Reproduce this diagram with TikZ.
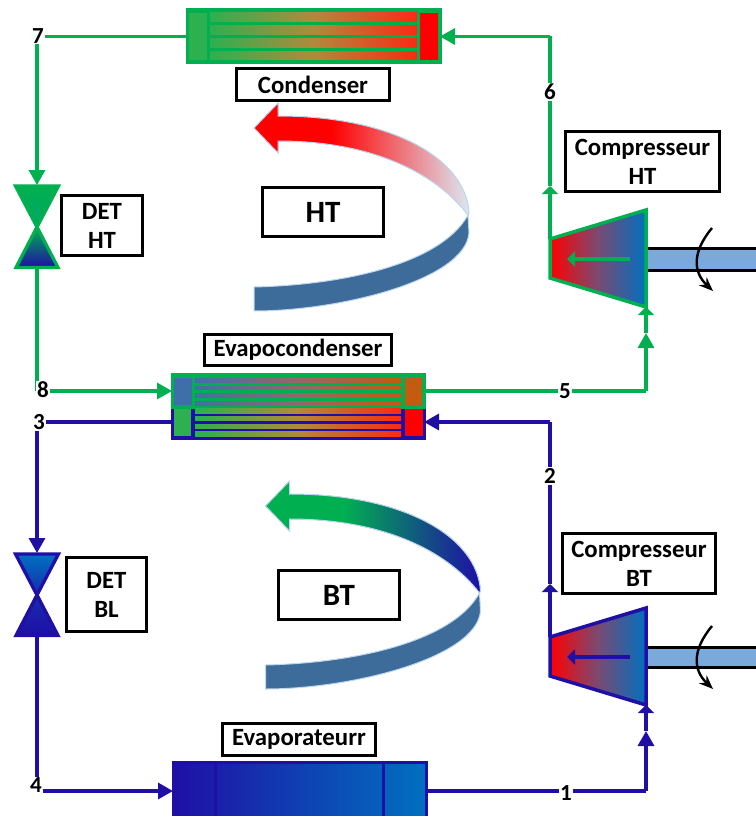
\documentclass[tikz,border=0pt]{standalone}
\usepackage{fontspec}
\setmainfont{Carlito}
\usetikzlibrary{arrows.meta}
\definecolor{gp}{HTML}{00B050}
\definecolor{bp}{HTML}{1F0FA5}
\definecolor{cb}{HTML}{0070C0}
\definecolor{shaftc}{HTML}{7CA9DB}
\definecolor{swirl}{HTML}{3E6C9A}
\definecolor{fadec}{HTML}{DCE6F2}
\definecolor{edgec}{HTML}{BDD7EE}
\definecolor{tubeblue}{HTML}{3F6FA8}
\definecolor{tubeor}{HTML}{C55A11}
\definecolor{chamg}{HTML}{2DB050}
\definecolor{tubemid}{HTML}{B08A3C}
\definecolor{tubemidb}{HTML}{96666A}
\definecolor{tubeend}{HTML}{FA2A14}
\definecolor{compmid}{HTML}{7A4A72}
\pgfdeclarehorizontalshading{htswirl}{100bp}{color(0bp)=(red); color(25bp)=(red); color(43bp)=(red); color(75bp)=(fadec); color(100bp)=(fadec)}
\pgfdeclarehorizontalshading{btswirl}{100bp}{color(0bp)=(gp); color(25bp)=(gp); color(43bp)=(gp); color(75bp)=(bp); color(100bp)=(bp)}
\tikzset{
  x=1pt,y=-1pt,
  lab/.style={draw=black,line width=2.6pt,fill=white,font=\fontsize{24.8}{29}\selectfont\bfseries,align=center,inner sep=0pt,outer sep=0pt},
  big/.style={lab,font=\fontsize{31}{36}\selectfont\bfseries},
  num/.style={fill=white,font=\fontsize{23}{25}\selectfont\bfseries,inner sep=1pt},
  greenpipe/.style={draw=gp,line width=3.3pt},
  bluepipe/.style={draw=bp,line width=3.3pt},
  bigtip/.style={-{Triangle[length=15pt,width=16pt]}},
  smalltip/.style={-{Triangle[length=8pt,width=16pt]}},
  hx/.style={inner sep=0pt,outer sep=0pt,line width=3pt},
  shaftbar/.style={draw=black,line width=3pt,fill=shaftc},
  rot/.style={draw=black,line width=2.4pt,-{Stealth[length=14pt,width=11pt]}},
  gradtube/.style={left color=chamg,right color=tubeend,middle color=tubemid},
  compshade/.style={left color=red,right color=cb,middle color=compmid},
}
\newcommand{\swirlshape}[1]{%
  \fill[shading=#1,draw=edgec,line width=1pt] (278,116) .. controls (395,116) and (466,160) .. (469,213) -- (468,215) .. controls (435,172) and (370,141) .. (278,141) -- (278,153) -- (254,128) -- (278,103) -- cycle;
  \fill[swirl,draw=edgec,line width=1pt] (468,215) .. controls (440,265) and (340,285) .. (254,287) -- (254,311) .. controls (340,311) and (465,280) .. (469,233) -- cycle;
}
\begin{document}
\begin{tikzpicture}
\useasboundingbox (0,0) rectangle (755,816);
% Coordinates of connector ends
\coordinate (cTL) at (37,36.5);
\coordinate (v1t) at (37,185);
\coordinate (v1c) at (37,227);
\coordinate (v1b) at (37,269);
\coordinate (cML) at (37,391);
\coordinate (cBL) at (37,422);
\coordinate (v2t) at (37,553);
\coordinate (v2c) at (37,595);
\coordinate (v2b) at (37,637);
\coordinate (cEL) at (37,791);
\coordinate (k1tl) at (550,239);
\coordinate (k1bl) at (550,278);
\coordinate (k1tr) at (646,210);
\coordinate (k1br) at (646,307);
\coordinate (k2tl) at (550,637);
\coordinate (k2bl) at (550,676);
\coordinate (k2tr) at (646,608);
\coordinate (k2br) at (646,705);
\coordinate (cTR) at (550,36.5);
\coordinate (cMR) at (646,391);
\coordinate (cBR) at (550,422);
\coordinate (cER) at (646,791);
% Swirl arrows
\swirlshape{htswirl}
\begin{scope}[shift={(11.5,378)}]
\swirlshape{btswirl}
\end{scope}
% Shafts
\fill[shaftbar] (646,248) rectangle (760,270);
\fill[shaftbar] (646,647) rectangle (760,667);
\draw[rot] (712,228) .. controls (692,252) and (693,272) .. (713,291);
\draw[rot] (712,626) .. controls (692,650) and (693,670) .. (713,689);
% Heat exchanger bodies
\node[hx,fill=gp,draw=gp,minimum width=253pt,minimum height=53pt] (cond) at (313.5,36.5) {};
\node[hx,fill=bp,draw=bp,minimum width=252pt,minimum height=32pt] (evb) at (298,422) {};
\node[hx,fill=gp,draw=gp,minimum width=252pt,minimum height=33pt] (evt) at (298,391) {};
\node[hx,left color=bp,right color=cb,draw=bp,minimum width=253pt,minimum height=60pt] (evap) at (299.5,792) {};
% Condenser inside
\fill[chamg] (189,13) rectangle (207,60);
\fill[red] (420,13) rectangle (438,60);
\foreach \a/\b in {13/22,26/35,39/48,52/60}
  \fill[gradtube] (210,\a) rectangle (417,\b);
% Evapocondenser inside
\fill[tubeblue] (174,378) rectangle (192,405);
\fill[tubeor] (405,378) rectangle (422,405);
\foreach \a/\b in {378/382,386/389,393/397,401/405}
  \fill[left color=tubeblue,right color=tubeor,middle color=tubemidb] (195,\a) rectangle (401,\b);
\fill[chamg] (174,408.5) rectangle (191,436);
\fill[red] (405,408.5) rectangle (423,436);
\foreach \a/\b in {408.5/413,416/420,424/428,431/436}
  \fill[gradtube] (195,\a) rectangle (401,\b);
% Evaporator dividers
\draw[bp,line width=3pt] (215,764) -- (215,816);
\draw[bp,line width=3pt] (383,764) -- (383,816);
% Valves
\filldraw[greenpipe,line join=miter,top color=gp,bottom color=gp!85!cb] (15.5,186) -- (58.5,186) -- (v1c) -- cycle;
\filldraw[greenpipe,line join=miter,top color=gp,bottom color=bp] (v1c) -- (58,267.5) -- (16,267.5) -- cycle;
\filldraw[bluepipe,line join=miter,top color=cb,bottom color=bp!70!cb] (15.5,554) -- (58.5,554) -- (v2c) -- cycle;
\filldraw[bluepipe,line join=miter,top color=bp!70!cb,bottom color=bp] (v2c) -- (58,635.5) -- (16,635.5) -- cycle;
% Compressors
\filldraw[draw=gp,line width=3.5pt,compshade] (k1tl) -- (k1tr) -- (k1br) -- (k1bl) -- cycle;
\filldraw[draw=bp,line width=3.5pt,compshade] (k2tl) -- (k2tr) -- (k2br) -- (k2bl) -- cycle;
\coordinate (a1s) at (630,259); \coordinate (a1e) at (567,259);
\coordinate (a2s) at (630,657); \coordinate (a2e) at (567,657);
\draw[greenpipe,-{Triangle[length=8pt,width=15pt]}] (a1s) -- (a1e);
\draw[bluepipe,-{Triangle[length=8pt,width=15pt]}] (a2s) -- (a2e);
% Green connectors
\draw[greenpipe] (cond.west) -- (cTL);
\draw[greenpipe,bigtip] (cTL) -- (v1t);
\draw[greenpipe] (v1b) -- (cML);
\draw[greenpipe,bigtip] (cML) -- (evt.west);
\draw[greenpipe] (evt.east) -- (cMR);
\coordinate (g1) at (646,333);
\draw[greenpipe,bigtip] (cMR) -- (g1);
\draw[greenpipe,smalltip] (g1) -- (k1br);
\coordinate (g3) at (550,186);
\draw[greenpipe,smalltip] (k1tl) -- (g3);
\draw[greenpipe] (g3) -- (cTR);
\draw[greenpipe,bigtip] (cTR) -- (cond.east);
% Blue connectors
\draw[bluepipe,bigtip] (evb.west) -- (cBL) -- (v2t);
\draw[bluepipe] (v2b) -- (cEL);
\draw[bluepipe,bigtip] (cEL) -- (evap.west|-cEL);
\draw[bluepipe] (evap.east|-cER) -- (cER);
\coordinate (b1) at (646,731);
\draw[bluepipe,bigtip] (cER) -- (b1);
\draw[bluepipe,smalltip] (b1) -- (k2br);
\coordinate (b3) at (550,584);
\draw[bluepipe,smalltip] (k2tl) -- (b3);
\draw[bluepipe] (b3) -- (cBR);
\draw[bluepipe,bigtip] (cBR) -- (evb.east);
% Point numbers
\node[num] (n7) at (38,36) {7};
\node[num] (n6) at (550,92) {6};
\node[num] (n8) at (43,390) {8};
\node[num] (n3) at (39,422) {3};
\node[num] (n5) at (565,391) {5};
\node[num] (n2) at (550,476) {2};
\node[num] (n4) at (36,785) {4};
\node[num] (n1) at (566,793) {1};
% Labels
\node[lab,minimum width=153pt,minimum height=32pt] (lcond) at (313,84.5) {Condenser};
\node[lab,minimum width=187pt,minimum height=31pt] (levc) at (298,350) {Evapocondenser};
\node[lab,minimum width=153pt,minimum height=32pt] (levap) at (299,739.5) {Evaporateurr};
\node[lab,minimum width=81pt,minimum height=60pt] (ldh) at (102,225.5) {DET\\HT};
\node[lab,minimum width=80pt,minimum height=74pt] (ldb) at (106.5,594.5) {DET\\BL};
\node[lab,minimum width=154pt,minimum height=60pt] (lch) at (642.5,161.5) {Compresseur\\HT};
\node[lab,minimum width=153pt,minimum height=60pt] (lcb) at (639,563.5) {Compresseur\\BT};
\node[big,minimum width=121pt,minimum height=49pt] (lht) at (323,212) {HT};
\node[big,minimum width=121pt,minimum height=49pt] (lbt) at (339,595) {BT};
\end{tikzpicture}
\end{document}
